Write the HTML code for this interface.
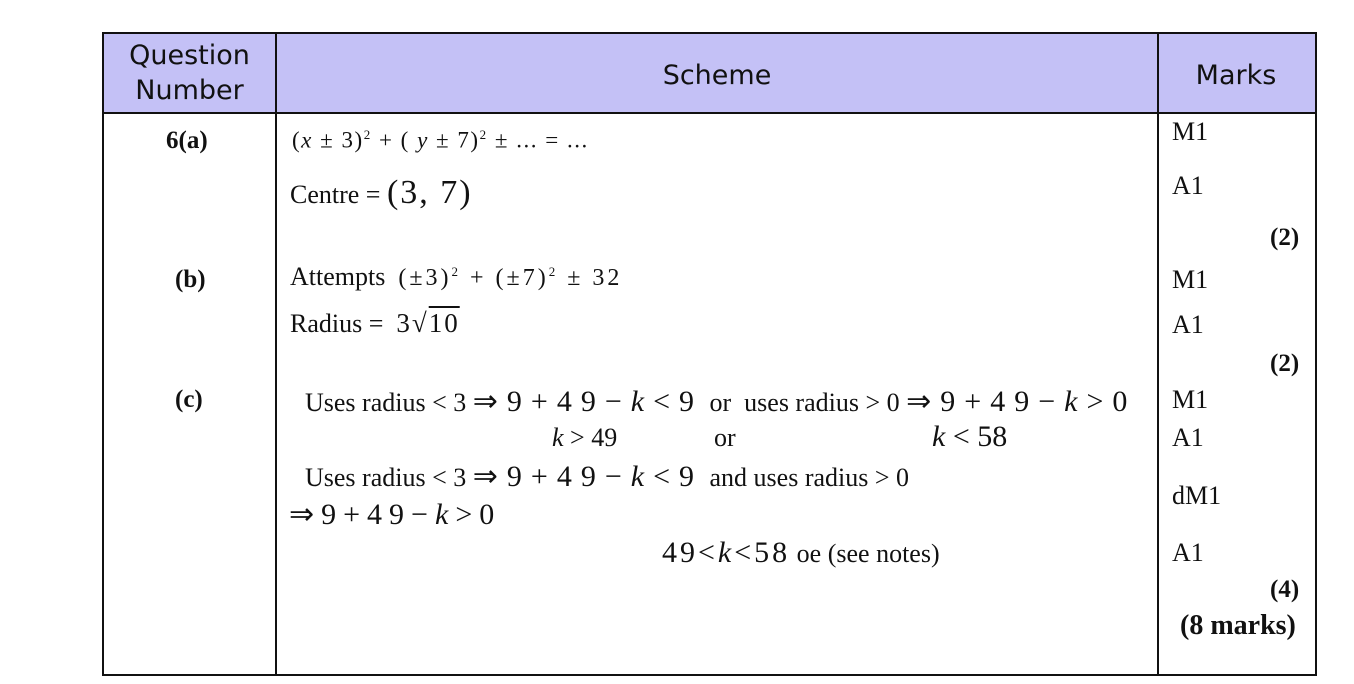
<!DOCTYPE html>
<html><head><style>
body{margin:0;width:1354px;height:684px;background:#fff;position:relative;font-family:"Liberation Serif",serif;color:#111;overflow:hidden}
.t{position:absolute;white-space:nowrap;line-height:1}
.h{font-family:"DejaVu Sans","Liberation Sans",sans-serif;font-size:27px;text-align:center;line-height:1.3;position:absolute}
.s{font-size:26px}
.m{font-size:30px;letter-spacing:9px}
.b{font-weight:bold;font-size:25px}
i{font-style:italic}
sup{font-size:13px}
</style></head><body>
<div style="position:absolute;left:102px;top:32px;width:1211px;height:78px;background:#c4c1f6;border:2px solid #111"></div>
<div style="position:absolute;left:102px;top:112px;width:1211px;height:562px;border:2px solid #111;border-top:none"></div>
<div style="position:absolute;left:275px;top:32px;width:2px;height:644px;background:#111"></div>
<div style="position:absolute;left:1157px;top:32px;width:2px;height:644px;background:#111"></div>
<div class="h" style="left:104px;top:38px;width:171px">Question<br>Number</div>
<div class="h" style="left:277px;top:58px;width:880px">Scheme</div>
<div class="h" style="left:1159px;top:58px;width:154px">Marks</div>

<div class="t b" style="left:166px;top:128px">6(a)</div>
<div class="t" style="left:292px;top:128px;font-size:23px;letter-spacing:1.5px">(<i>x</i> ± 3)<sup>2</sup> + ( <i>y</i> ± 7)<sup>2</sup> ± ... = ...</div>
<div class="t s" style="left:290px;top:176px">Centre = <span style="font-size:34px;letter-spacing:2px">(3, 7)</span></div>
<div class="t s" style="left:1172px;top:119px">M1</div>
<div class="t s" style="left:1172px;top:173px">A1</div>
<div class="t b" style="left:1270px;top:225px">(2)</div>

<div class="t b" style="left:175px;top:267px">(b)</div>
<div class="t s" style="left:290px;top:264px">Attempts &nbsp;<span style="letter-spacing:3px;font-size:24px">(±3)<sup>2</sup> + (±7)<sup>2</sup> ± 32</span></div>
<div class="t s" style="left:290px;top:310px">Radius = &nbsp;<span style="font-size:27px;letter-spacing:2px">3√<span style="text-decoration:overline">10</span></span></div>
<div class="t s" style="left:1172px;top:267px">M1</div>
<div class="t s" style="left:1172px;top:312px">A1</div>
<div class="t b" style="left:1270px;top:351px">(2)</div>

<div class="t b" style="left:175px;top:387px">(c)</div>
<div class="t s" style="left:305px;top:387px">Uses radius &lt; 3 <span class="m">⇒9+49−<i>k</i>&lt;9</span> or&nbsp; uses radius &gt; 0 <span class="m">⇒9+49−<i>k</i>&gt;0</span></div>
<div class="t s" style="left:552px;top:425px"><i>k</i> &gt; 49</div>
<div class="t s" style="left:714px;top:425px">or</div>
<div class="t" style="left:932px;top:422px;font-size:30px"><i>k</i> &lt; 58</div>
<div class="t s" style="left:305px;top:462px">Uses radius &lt; 3 <span class="m">⇒9+49−<i>k</i>&lt;9</span> and uses radius &gt; 0</div>
<div class="t m" style="left:289px;top:500px;letter-spacing:7px">⇒9+49−<i>k</i>&gt;0</div>
<div class="t s" style="left:662px;top:538px"><span class="m" style="letter-spacing:3px">49&lt;<i>k</i>&lt;58</span> oe (see notes)</div>
<div class="t s" style="left:1172px;top:387px">M1</div>
<div class="t s" style="left:1172px;top:425px">A1</div>
<div class="t s" style="left:1172px;top:483px">dM1</div>
<div class="t s" style="left:1172px;top:540px">A1</div>
<div class="t b" style="left:1270px;top:577px">(4)</div>
<div class="t b" style="left:1180px;top:612px;font-size:28px">(8 marks)</div>
</body></html>
